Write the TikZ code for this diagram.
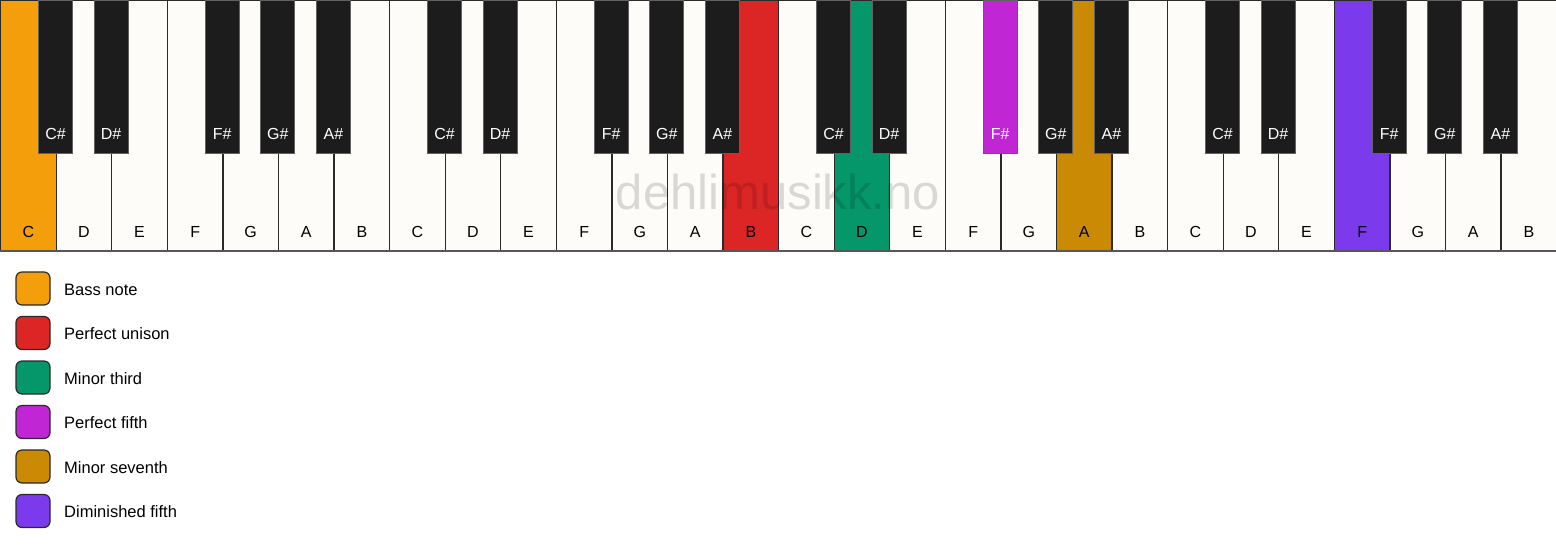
\documentclass[tikz,border=0pt]{standalone}
\usepackage{fontspec}
\setmainfont{Liberation Sans}
\definecolor{ivory}{HTML}{FDFCF9}
\definecolor{ebony}{HTML}{1C1C1C}
\definecolor{keyedge}{HTML}{2A2A2A}
\definecolor{bassnote}{HTML}{F59E0B}
\definecolor{unison}{HTML}{DC2626}
\definecolor{minthird}{HTML}{059669}
\definecolor{perffifth}{HTML}{C026D3}
\definecolor{minseventh}{HTML}{CA8A04}
\definecolor{dimfifth}{HTML}{7C3AED}
\tikzset{
  whitekey/.style={draw=keyedge,line width=1.3pt,minimum width=55.57pt,minimum height=250pt,inner sep=0pt,anchor=north west},
  blackkey/.style={draw=black!62,line width=.9pt,minimum width=34pt,minimum height=153pt,inner sep=0pt,anchor=north},
  keyname/.style={font=\fontsize{16}{19}\selectfont,inner sep=0pt},
  swatch/.style={draw=keyedge,line width=1.2pt,rounded corners=6pt,minimum width=34pt,minimum height=33pt,inner sep=0pt},
  legendtext/.style={font=\fontsize{16.5}{20}\selectfont,anchor=west,inner sep=0pt}
}
\begin{document}
\begin{tikzpicture}[x=1pt,y=-1pt]
  \useasboundingbox[fill=white] (0,0) rectangle (1556,550);
  % white keys
  \foreach \i/\n/\c in {0/C/bassnote,1/D/ivory,2/E/ivory,3/F/ivory,4/G/ivory,5/A/ivory,6/B/ivory,
      7/C/ivory,8/D/ivory,9/E/ivory,10/F/ivory,11/G/ivory,12/A/ivory,13/B/unison,
      14/C/ivory,15/D/minthird,16/E/ivory,17/F/ivory,18/G/ivory,19/A/minseventh,20/B/ivory,
      21/C/ivory,22/D/ivory,23/E/ivory,24/F/dimfifth,25/G/ivory,26/A/ivory,27/B/ivory} {
    \node[whitekey,fill=\c] (w\i) at ({\i*55.571},0) {};
    \node[keyname] (wn\i) at ([yshift=19pt]w\i.south) {\n};
  }
  \draw[line width=2pt,black!66] (w0.south west) -- (w27.south east);
  \node[font=\fontsize{49}{58}\selectfont,text=black,text opacity=.14,inner sep=0pt] (mark) at (778,192) {dehlimusikk.no};
  % black keys
  \foreach \o in {0,...,3}
    \foreach \b/\n in {1/C\#,2/D\#,4/F\#,5/G\#,6/A\#} {
      \ifnum\numexpr7*\o+\b\relax=18 \def\kc{perffifth}\else\def\kc{ebony}\fi
      \node[blackkey,fill=\kc] (b\o\b) at ({(7*\o+\b)*55.571},0) {};
      \node[keyname,text=white] (bn\o\b) at ([yshift=20pt]b\o\b.south) {\n};
    }
  % legend
  \foreach \c/\t [count=\k from 0] in {bassnote/Bass note,unison/Perfect unison,minthird/Minor third,
      perffifth/Perfect fifth,minseventh/Minor seventh,dimfifth/Diminished fifth} {
    \node[swatch,fill=\c] (s\k) at (33,{288.5+44.5*\k}) {};
    \node[legendtext] (t\k) at (64,{289.5+44.5*\k}) {\t};
  }
\end{tikzpicture}
\end{document}
